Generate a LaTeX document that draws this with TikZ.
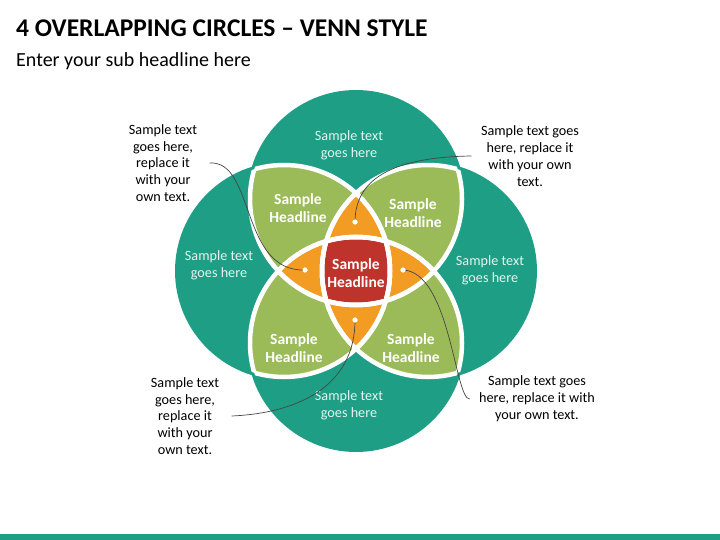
\documentclass[tikz,border=0pt]{standalone}
\usepackage{fontspec}
\setmainfont{Carlito}
\usetikzlibrary{positioning}
\definecolor{vteal}{RGB}{30,158,132}
\definecolor{vgreen}{RGB}{155,187,89}
\definecolor{vorange}{RGB}{243,156,36}
\definecolor{vred}{RGB}{190,52,44}
\definecolor{callgray}{RGB}{70,70,70}
\newcommand{\rteal}{109pt}
\newcommand{\rwhite}{106pt}
\begin{document}
\begin{tikzpicture}[x=1pt, y=-1pt,
    tealtext/.style={align=center, text=white!88!vteal, font=\fontsize{14.2}{17}\selectfont},
    headline/.style={align=center, text=white, font=\bfseries\fontsize{15.5}{18.5}\selectfont},
    callout/.style={align=center, text=black, font=\fontsize{14.2}{16.8}\selectfont},
    callline/.style={draw=callgray, line width=0.7pt},
    dot/.style={circle, fill=white, inner sep=0pt, minimum size=5pt}]
  \useasboundingbox (0,0) rectangle (720,540);
  % title
  \node[anchor=base west, inner sep=0pt, font=\bfseries\fontsize{25.5}{30}\selectfont] (title) at (16,37) {4 OVERLAPPING CIRCLES – VENN STYLE};
  \node[anchor=base west, inner sep=0pt, font=\fontsize{20}{24}\selectfont] (subtitle) at (16,67) {Enter your sub headline here};
  \fill[vteal] (0,534) rectangle (720,540);
  % circle centres
  \coordinate (T) at (356,199);
  \coordinate (L) at (284,271);
  \coordinate (R) at (428,271);
  \coordinate (B) at (356,343);
  \foreach \c in {T,L,R,B}
    \fill[vteal] (\c) circle[radius=\rteal];
  % two circles
  \foreach \a/\b in {T/L,T/R,B/L,B/R} {
    \begin{scope}
      \clip (\a) circle[radius=\rwhite];
      \fill[vgreen] (\b) circle[radius=\rwhite];
    \end{scope}
  }
  % three circles
  \foreach \a/\b/\c in {T/L/R,T/L/B,T/R/B,L/R/B} {
    \begin{scope}
      \clip (\a) circle[radius=\rwhite];
      \clip (\b) circle[radius=\rwhite];
      \fill[vorange] (\c) circle[radius=\rwhite];
    \end{scope}
  }
  % all four
  \begin{scope}
    \clip (T) circle[radius=\rwhite];
    \clip (L) circle[radius=\rwhite];
    \clip (R) circle[radius=\rwhite];
    \fill[vred] (B) circle[radius=\rwhite];
  \end{scope}
  % white outlines
  \foreach \a/\b in {T/L,T/R,T/B,L/T,L/R,L/B,R/T,R/L,R/B,B/T,B/L,B/R} {
    \begin{scope}
      \clip (\b) circle[radius=\rwhite];
      \draw[white, line width=4.5pt] (\a) circle[radius=\rwhite];
    \end{scope}
  }
  % texts
  \node[tealtext] (ttop) at (349,145) {Sample text\\goes here};
  \node[tealtext] (tleft) at (219,265) {Sample text\\goes here};
  \node[tealtext] (tright) at (490,270) {Sample text\\goes here};
  \node[tealtext] (tbottom) at (349,405) {Sample text\\goes here};
  \node[headline] (hul) at (298,208) {Sample\\Headline};
  \node[headline] (hur) at (413,213) {Sample\\Headline};
  \node[headline] (hll) at (294,348) {Sample\\Headline};
  \node[headline] (hlr) at (411,348) {Sample\\Headline};
  \node[headline] (hmid) at (356,273) {Sample\\Headline};
  % callouts
  \node[callout] (cul) at (163,163) {Sample text\\goes here,\\replace it\\with your\\own text.};
  \node[callout] (cur) at (530,156) {Sample text goes\\here, replace it\\with your own\\text.};
  \node[callout] (cll) at (185,416) {Sample text\\goes here,\\replace it\\with your\\own text.};
  \node[callout] (clr) at (537,399) {Sample text goes\\here, replace it with\\your own text.};
  \node[dot] (dtop) at (355,222) {};
  \node[dot] (dleft) at (305,270) {};
  \node[dot] (dright) at (403,270) {};
  \node[dot] (dbottom) at (355,320) {};
  \draw[callline] ([xshift=9pt]cul.east) .. controls (255,160) and (240,272) .. (dleft.center);
  \draw[callline] ([xshift=-6pt]cur.west) .. controls (400,157) and (355,175) .. (dtop.center);
  \draw[callline] ([xshift=9pt]cll.east) .. controls (300,413) and (355,385) .. (dbottom.center);
  \draw[callline] (dright.center) .. controls (450,272) and (455,400) .. ([xshift=-6pt]clr.west);
  \foreach \d in {dtop,dleft,dright,dbottom}
    \node[dot] at (\d) {};
\end{tikzpicture}
\end{document}
